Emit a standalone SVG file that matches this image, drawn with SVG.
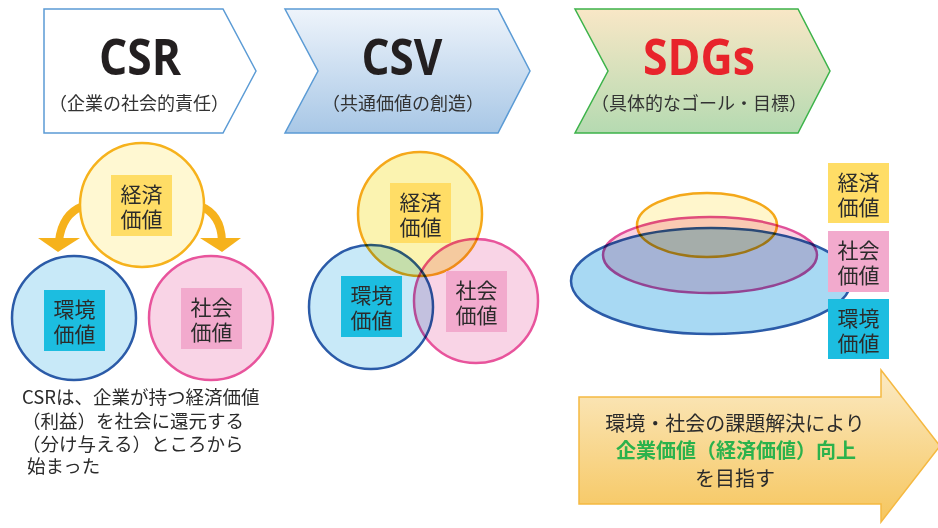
<svg xmlns="http://www.w3.org/2000/svg" width="938" height="528" viewBox="0 0 938 528">
<defs>
<linearGradient id="gCSV" x1="0" y1="0" x2="0" y2="1"><stop offset="0" stop-color="#eef4fb"/><stop offset="1" stop-color="#a8c7e6"/></linearGradient>
<linearGradient id="gSDG" x1="0" y1="0" x2="0" y2="1"><stop offset="0" stop-color="#f9e7c6"/><stop offset="1" stop-color="#b5dab1"/></linearGradient>
<linearGradient id="gArrow" x1="0" y1="0" x2="0" y2="1"><stop offset="0" stop-color="#fbeac4"/><stop offset="1" stop-color="#f6c65e"/></linearGradient>
</defs>
<style>
.title{font-family:"Open Sans","Noto Sans",sans-serif;font-weight:700;font-size:50px;text-anchor:middle}
.sub{font-family:"Noto Sans CJK JP",sans-serif;font-size:18px;fill:#333;text-anchor:middle}
.lbl{font-family:"Noto Sans CJK JP",sans-serif;font-size:21px;fill:#2b2b2b;text-anchor:middle}
.body{font-family:"Noto Sans CJK JP",sans-serif;font-size:18.5px;fill:#2b2b2b}
.big{font-family:"Noto Sans CJK JP",sans-serif;font-size:20px;fill:#2b2b2b;text-anchor:middle}
.green{fill:#2bb24c;font-weight:700}
.econ{fill:#fff8d2;stroke:#f6b21c;stroke-width:2.5}
.env{fill:#c8e9f8;stroke:#2b5ba8;stroke-width:2.5}
.soc{fill:#f9d4e6;stroke:#e8549c;stroke-width:2.5}
.bE{fill:#ffdd66}.bV{fill:#1cbde0}.bS{fill:#f2aacd}
.mul{mix-blend-mode:multiply}
</style>
<g id="chevron-csr">
<polygon points="44,9 223,9 256,71 223,133 44,133" fill="#ffffff" stroke="#5b9bd5" stroke-width="1.5"/>
<text class="title" x="140" y="75" fill="#231f20" textLength="82" lengthAdjust="spacingAndGlyphs">CSR</text>
<text class="sub" x="139" y="110">（企業の社会的責任）</text>
</g>
<g id="chevron-csv">
<polygon points="285,9 498,9 530,71 498,133 285,133 318,71" fill="url(#gCSV)" stroke="#5b9bd5" stroke-width="1.5"/>
<text class="title" x="402" y="75" fill="#231f20" textLength="81" lengthAdjust="spacingAndGlyphs">CSV</text>
<text class="sub" x="403" y="110">（共通価値の創造）</text>
</g>
<g id="chevron-sdgs">
<polygon points="575,9 798,9 830,71 798,133 575,133 608,71" fill="url(#gSDG)" stroke="#3cb34a" stroke-width="1.5"/>
<text class="title" x="699" y="75" fill="#e8242b" textLength="112" lengthAdjust="spacingAndGlyphs">SDGs</text>
<text class="sub" x="699" y="110">（具体的なゴール・目標）</text>
</g>
<g id="connectors">
<path d="M83,206 Q62,214 59,241" fill="none" stroke="#f6b21c" stroke-width="8"/>
<polygon points="38,238 80,238 58,252" fill="#f6b21c"/>
<path d="M200,206 Q221,214 222,241" fill="none" stroke="#f6b21c" stroke-width="8"/>
<polygon points="200,238 241,238 222,252" fill="#f6b21c"/>
</g>
<g id="csr-econ">
<circle class="econ" cx="142" cy="205" r="62"/>
<rect class="bE" x="111" y="175" width="61" height="61"/>
<text class="lbl" x="141.5" y="202">経済<tspan x="141.5" dy="25">価値</tspan></text>
</g>
<g id="csr-env">
<circle class="env" cx="74" cy="318" r="62"/>
<rect class="bV" x="44" y="290" width="61" height="61"/>
<text class="lbl" x="74.5" y="317">環境<tspan x="74.5" dy="25">価値</tspan></text>
</g>
<g id="csr-soc">
<circle class="soc" cx="211" cy="318" r="62"/>
<rect class="bS" x="181" y="288" width="61" height="61"/>
<text class="lbl" x="211.5" y="315">社会<tspan x="211.5" dy="25">価値</tspan></text>
</g>
<g id="csr-text">
<text class="body" x="22" y="404">CSRは、企業が持つ経済価値<tspan x="22" dy="24">（利益）を社会に還元する</tspan><tspan x="22" dy="23">（分け与える）ところから</tspan><tspan x="27" dy="22">始まった</tspan></text>
</g>
<g id="csv-venn">
<circle class="env mul" cx="371" cy="307" r="62"/>
<circle class="soc mul" cx="476" cy="301" r="62"/>
<circle class="mul" cx="420" cy="214" r="62" fill="#fbf3b0" stroke="#f5a81a" stroke-width="2.5"/>
</g>
<g id="csv-econ"><rect class="bE" x="390" y="183" width="61" height="60"/>
<text class="lbl" x="420.5" y="210">経済<tspan x="420.5" dy="25">価値</tspan></text></g>
<g id="csv-env"><rect class="bV" x="341" y="276" width="61" height="61"/>
<text class="lbl" x="371.5" y="303">環境<tspan x="371.5" dy="25">価値</tspan></text></g>
<g id="csv-soc"><rect class="bS" x="446" y="271" width="61" height="61"/>
<text class="lbl" x="476.5" y="298">社会<tspan x="476.5" dy="25">価値</tspan></text></g>
<g id="sdgs-ellipses">
<ellipse class="mul" cx="711" cy="281" rx="140" ry="53" fill="#a8d9f3" stroke="#2b5ba8" stroke-width="2.5"/>
<ellipse class="mul" cx="710" cy="255" rx="107" ry="38" fill="#fad2e0" stroke="#e0509a" stroke-width="2.5"/>
<ellipse class="mul" cx="707" cy="225" rx="70" ry="32" fill="#fff6cc" stroke="#f4a81a" stroke-width="2.5"/>
</g>
<g id="sdgs-econ"><rect class="bE" x="828" y="163" width="61" height="60"/>
<text class="lbl" x="858.5" y="190">経済<tspan x="858.5" dy="25">価値</tspan></text></g>
<g id="sdgs-soc"><rect class="bS" x="828" y="231" width="61" height="61"/>
<text class="lbl" x="858.5" y="258">社会<tspan x="858.5" dy="25">価値</tspan></text></g>
<g id="sdgs-env"><rect class="bV" x="828" y="299" width="61" height="60"/>
<text class="lbl" x="858.5" y="326">環境<tspan x="858.5" dy="25">価値</tspan></text></g>
<g id="goal-arrow">
<polygon points="579,397 881,397 881,370 940,446 881,522 881,504 579,504" fill="url(#gArrow)" stroke="#f5b942" stroke-width="1.5"/>
<text class="big" x="735" y="431">環境・社会の課題解決により<tspan class="green" x="736" dy="27">企業価値（経済価値）向上</tspan><tspan x="735" dy="28">を目指す</tspan></text>
</g>
</svg>
